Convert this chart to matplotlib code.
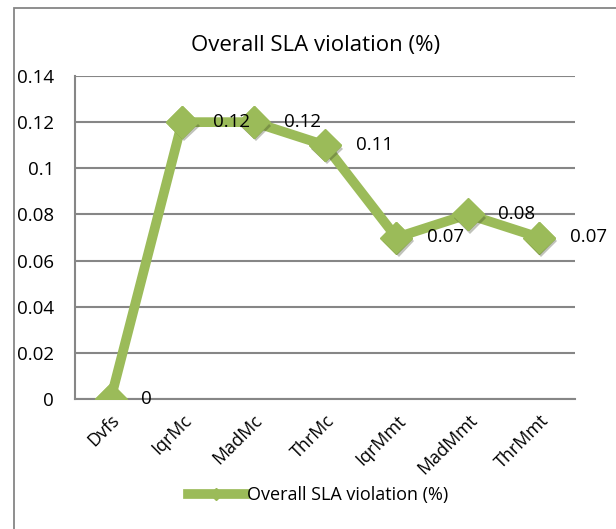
import matplotlib.pyplot as plt
import matplotlib.patheffects as pe
from matplotlib.patches import Rectangle

# values
categories = ['Dvfs', 'IqrMc', 'MadMc', 'ThrMc', 'IqrMmt', 'MadMmt', 'ThrMmt']
sla_violation = [0, 0.12, 0.12, 0.11, 0.07, 0.08, 0.07]
value_labels = ['0', '0.12', '0.12', '0.11', '0.07', '0.08', '0.07']
y_ticks = [0, 0.02, 0.04, 0.06, 0.08, 0.1, 0.12, 0.14]
y_tick_labels = ['0', '0.02', '0.04', '0.06', '0.08', '0.1', '0.12', '0.14']

GREEN = '#9BBB59'
GRID = '#868686'
plt.rcParams['font.family'] = ['Open Sans', 'DejaVu Sans']

W, H = 616, 529
fig = plt.figure(figsize=(W / 100, H / 100), dpi=100)
ax = fig.add_axes([75 / W, 1 - 399 / H, 500 / W, 323 / H])

# outer chart border (clipped at right and bottom like the original)
fig.patches.append(Rectangle((14 / W, -0.1), 1.2, 1 - 8 / H + 0.1,
                             transform=fig.transFigure, fill=False,
                             edgecolor=GRID, linewidth=1.3))

x = list(range(len(categories)))
ax.plot(x, sla_violation, color=GREEN, linewidth=7, marker='D', markersize=16,
        markerfacecolor=GREEN, markeredgecolor=GREEN,
        label='Overall SLA violation (%)', zorder=3)
# soft shadow under the diamonds
ax.plot(x, sla_violation, linestyle='none', marker='D', markersize=16,
        markerfacecolor=GREEN, markeredgecolor=GREEN, zorder=3.5,
        path_effects=[pe.SimplePatchShadow(offset=(1.5, -2.5), alpha=0.3), pe.Normal()])

for xi, yi, lab in zip(x, sla_violation, value_labels):
    ax.annotate(lab, xy=(xi, yi), xytext=(22, 0), textcoords='offset points',
                ha='left', va='center', fontsize=13.5, color='black', zorder=4)

ax.set_xlim(-0.5, len(categories) - 0.5)
ax.set_ylim(0, 0.14)
ax.set_yticks(y_ticks)
ax.set_yticklabels(y_tick_labels, fontsize=13.5)
ax.set_xticks(x)
ax.set_xticklabels(categories, rotation=45, ha='right', rotation_mode='anchor', fontsize=13)
ax.tick_params(length=0)
ax.tick_params(axis='x', pad=9)
ax.tick_params(axis='y', pad=15)
ax.grid(axis='y', color=GRID, linewidth=1.5)
ax.set_axisbelow(True)
for side in ['top', 'right']:
    ax.spines[side].set_visible(False)
ax.spines['left'].set_color(GRID)
ax.spines['bottom'].set_color(GRID)
ax.spines['left'].set_linewidth(1.5)
ax.spines['bottom'].set_linewidth(1.5)

fig.text(316 / W, 1 - 45 / H, 'Overall SLA violation (%)', ha='center', va='center', fontsize=16)

fig.legend(loc='center', bbox_to_anchor=(318 / W, 1 - 495 / H), frameon=False,
           fontsize=13, handlelength=3.2, handletextpad=0.1, markerscale=0.4)

fig.savefig('out.png', dpi=100)
